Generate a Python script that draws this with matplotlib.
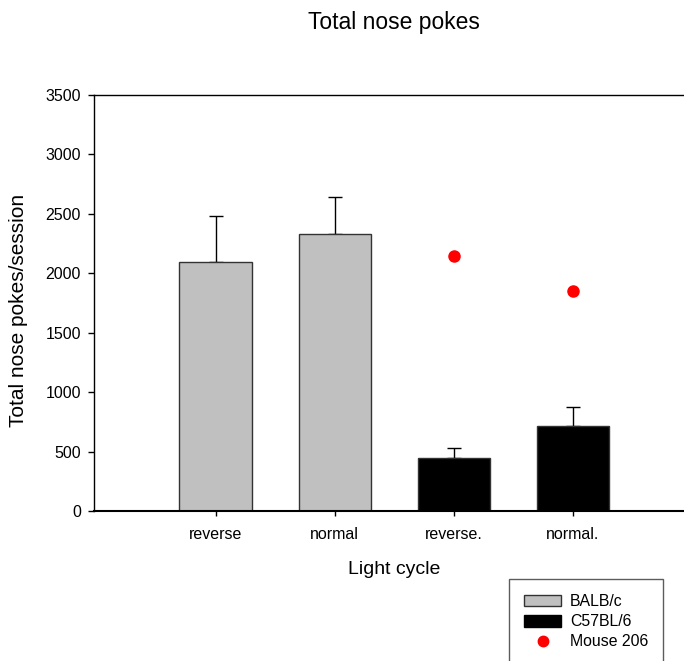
import numpy as np
import matplotlib
matplotlib.use('Agg')
import matplotlib.pyplot as plt
from matplotlib.patches import Patch
from matplotlib.lines import Line2D

plt.rcParams['font.family'] = ['Liberation Sans', 'DejaVu Sans']

# data
categories = ['reverse', 'normal', 'reverse.', 'normal.']
means = [2095, 2330, 448, 712]
sem = [385, 310, 82, 163]
bar_colors = ['#c0c0c0', '#c0c0c0', 'black', 'black']
mouse206_x = [3, 4]
mouse206_y = [2148, 1853]

fig = plt.figure(figsize=(6.84, 6.61), dpi=100)
W, H = 684, 661
ax = fig.add_axes([94 / W, 1 - 511 / H, (704 - 94) / W, 416 / H])

x = np.arange(1, len(categories) + 1)
ax.bar(x, means, width=0.605, color=bar_colors, edgecolor='#333333', linewidth=1, zorder=2)
ax.errorbar(x, means, yerr=[np.zeros(len(sem)), sem], fmt='none', ecolor='black',
            elinewidth=1, capsize=4.7, capthick=1, zorder=1)
ax.plot(mouse206_x, mouse206_y, 'o', color='red', markersize=8, zorder=3)

ax.set_xlim(-0.02, 5.1)
ax.set_ylim(0, 3500)
ax.set_yticks(np.arange(0, 3501, 500))
ax.set_xticks(x)
ax.set_xticklabels(categories)
ax.tick_params(axis='both', direction='out', length=4.3, width=1, labelsize=11.5)
ax.tick_params(axis='x', pad=8, length=3.5)
ax.tick_params(axis='y', pad=5)

ax.spines['right'].set_visible(False)
for s in ['left', 'top']:
    ax.spines[s].set_linewidth(1)
ax.spines['bottom'].set_linewidth(1.5)

fig.text(394 / W, 1 - 569 / H, 'Light cycle', fontsize=14, ha='center', va='center')
fig.text(18.5 / W, 1 - 310 / H, 'Total nose pokes/session', fontsize=15, rotation=90,
         ha='center', va='center')
fig.text(394 / W, 1 - 22 / H, 'Total nose pokes', fontsize=16.5, ha='center', va='center')

handles = [Patch(facecolor='#c0c0c0', edgecolor='#333333', label='BALB/c'),
           Patch(facecolor='black', edgecolor='black', label='C57BL/6'),
           Line2D([], [], marker='o', color='red', linestyle='none', markersize=7.5, label='Mouse 206')]
leg = fig.legend(handles=handles, loc='upper left', bbox_to_anchor=(509 / W, 1 - 579 / H),
                 fontsize=11.4, frameon=True, fancybox=False, edgecolor='#333333',
                 handlelength=2.35, handleheight=0.75, handletextpad=0.55, borderpad=0.95,
                 labelspacing=0.33, borderaxespad=0)
leg.get_frame().set_linewidth(1)

fig.savefig('out.png', dpi=100)
